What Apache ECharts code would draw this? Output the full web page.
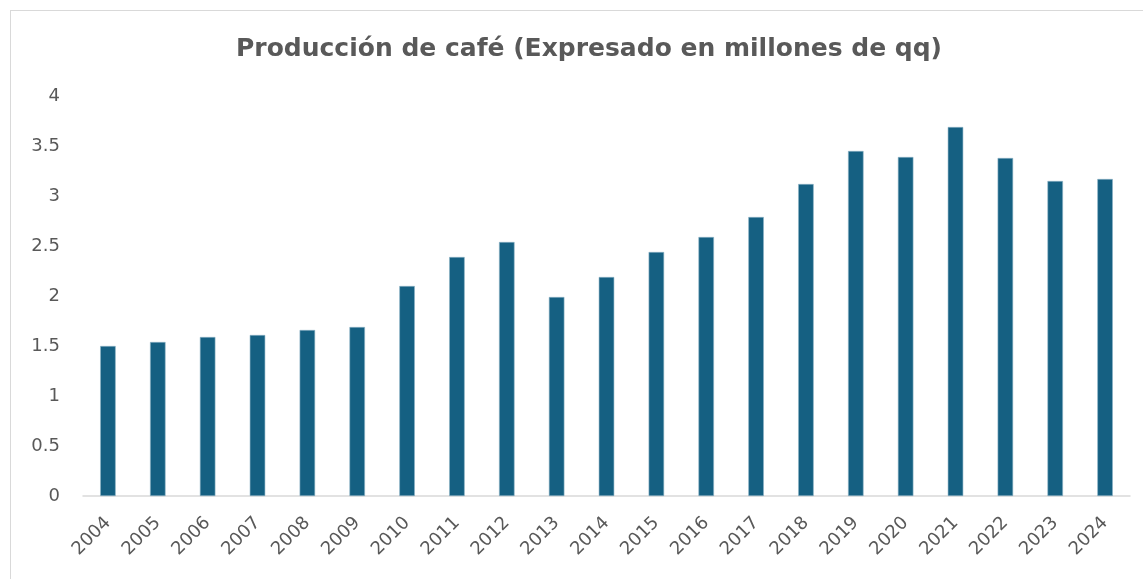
<!DOCTYPE html>
<html>
<head>
<meta charset="utf-8">
<script src="https://cdn.jsdelivr.net/npm/echarts@6/dist/echarts.min.js"></script>
<style>
  html, body { margin: 0; padding: 0; background: #fff; overflow: hidden; }
  #frame { position: absolute; left: 10px; top: 10px; width: 1150px; height: 590px; border: 1px solid #d9d9d9; box-sizing: border-box; }
  #chart { position: absolute; left: 0; top: 0; width: 1143px; height: 579px; }
</style>
</head>
<body>
<div id="frame"></div>
<div id="chart"></div>
<script>
// años y producción (millones de qq)
const years = ['2004', '2005', '2006', '2007', '2008', '2009', '2010', '2011', '2012', '2013', '2014',
  '2015', '2016', '2017', '2018', '2019', '2020', '2021', '2022', '2023', '2024']
const produccion = [1.50, 1.54, 1.59, 1.61, 1.66, 1.69, 2.10, 2.39, 2.54, 1.99, 2.19,
  2.44, 2.59, 2.79, 3.12, 3.45, 3.39, 3.69, 3.38, 3.15, 3.17]

const textColor = '#595959'
const font = 'DejaVu Sans, Liberation Sans, sans-serif'

let myChart = echarts.init(document.getElementById('chart'))
myChart.setOption({
  backgroundColor: 'transparent',
  animation: false,
  title: {
    text: 'Producción de café (Expresado en millones de qq)',
    left: 584,
    textAlign: 'center',
    top: 32,
    textStyle: { color: textColor, fontSize: 25, fontWeight: 'bold', fontFamily: font }
  },
  grid: { left: 83, right: 13, top: 96, bottom: 83 },
  xAxis: {
    type: 'category',
    data: years,
    axisTick: { show: false },
    axisLine: { lineStyle: { color: '#d9d9d9', width: 1.5 } },
    axisLabel: {
      rotate: 45,
      interval: 0,
      color: textColor,
      fontSize: 18,
      fontFamily: font,
      margin: 24
    }
  },
  yAxis: {
    type: 'value',
    min: 0,
    max: 4,
    interval: 0.5,
    splitLine: { show: false },
    axisLine: { show: false },
    axisTick: { show: false },
    axisLabel: { color: textColor, fontSize: 18, fontFamily: font, margin: 23 }
  },
  series: [
    {
      type: 'bar',
      data: produccion,
      barWidth: 15.5,
      itemStyle: { color: '#156082', borderColor: '#8fb3c6', borderWidth: 0.6 }
    }
  ]
})
</script>
</body>
</html>
